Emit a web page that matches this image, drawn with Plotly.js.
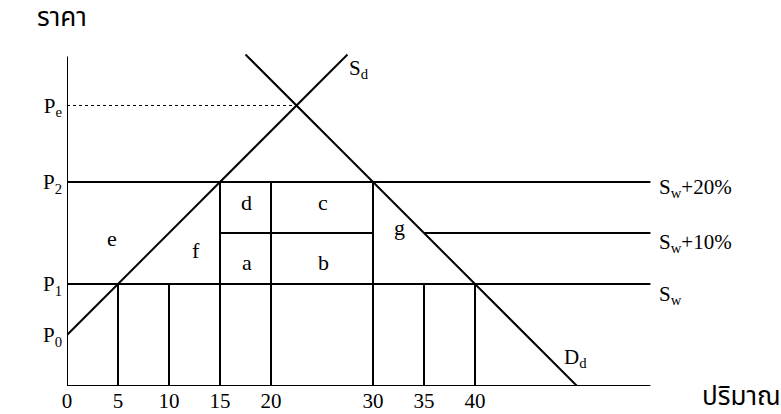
<!DOCTYPE html>
<html>
<head>
<meta charset="utf-8">
<script src="https://cdn.plot.ly/plotly-3.0.1.min.js"></script>
<style>body{margin:0;background:#fff;}</style>
</head>
<body>
<div id="chart" style="width:781px;height:414px"></div>
<script>
// Price levels
const priceNames = ['P<sub>0</sub>', 'P<sub>1</sub>', 'P<sub>2</sub>', 'P<sub>e</sub>'];
const priceValues = [5, 10, 20, 27.5];
const priceSw10 = 15;
// Quantity tick labels
const qtyTicks = [0, 5, 10, 15, 20, 30, 35, 40];
// Domestic supply S_d and demand D_d
const sdQ = [0, 27.5];
const sdP = [5, 32.5];
const ddQ = [17.5, 50];
const ddP = [32.5, 0];
// Axis extents
const axisQmax = 57.2;
const axisPmax = 32.3;
// Vertical guide lines: quantity and top price
const vertQ = [5, 10, 15, 20, 30, 35, 40];
const vertTop = [10, 10, 20, 20, 20, 10, 10];
// Equilibrium
const eqQ = 22.5, eqP = 27.5;
// Region labels
const regionText = ['d', 'c', 'a', 'b', 'g', 'e', 'f'];
const regionQ = [17.6, 25.1, 17.6, 25.1, 32.6, 4.4, 12.6];
const regionP = [18.0, 18.0, 12.1, 12.1, 15.5, 14.5, 13.3];

const P0 = priceValues[0], P1 = priceValues[1], P2 = priceValues[2];
const black = '#000';
const serif = 'Liberation Serif';
const thai = 'Noto Sans Thai';

function seg(x, y, extra) {
  return Object.assign({type: 'scatter', mode: 'lines', x: x, y: y, line: {color: black, width: 2}, hoverinfo: 'skip', showlegend: false, cliponaxis: false}, extra || {});
}
const traces = [];
// axes
traces.push(seg([0, axisQmax], [0, 0]));
traces.push(seg([0, 0], [0, axisPmax]));
// S_d and D_d
traces.push(seg(sdQ, sdP));
traces.push(seg(ddQ, ddP));
// P_e dotted
traces.push(seg([0, eqQ], [eqP, eqP], {line: {color: black, width: 1, dash: 'dot'}}));
// S_w + 20% (at P2)
traces.push(seg([0, axisQmax], [P2, P2]));
// S_w + 10%
traces.push(seg([15, 30], [priceSw10, priceSw10]));
traces.push(seg([50 - priceSw10, axisQmax], [priceSw10, priceSw10]));
// S_w (at P1)
traces.push(seg([0, axisQmax], [P1, P1]));
// verticals
vertQ.forEach((q, i) => traces.push(seg([q, q], [0, vertTop[i]])));

const ann = [];
regionText.forEach((t, i) => ann.push({x: regionQ[i], y: regionP[i], text: t, showarrow: false, font: {family: serif, size: 22, color: black}}));
const lab = (x, y, t) => ({x: x, y: y, text: t, showarrow: false, xanchor: 'left', font: {family: serif, size: 21, color: black}});
ann.push(lab(27.45, 31.1, 'S<sub>d</sub>'));
ann.push(lab(48.5, 2.7, 'D<sub>d</sub>'));
ann.push(lab(57.8, 19.4, 'S<sub>w</sub>+20%'));
ann.push(lab(57.8, 14.0, 'S<sub>w</sub>+10%'));
ann.push(lab(57.8, 8.9, 'S<sub>w</sub>'));
// axis titles (paper coordinates, outside the data range)
ann.push({xref: 'paper', yref: 'paper', x: -0.007, y: 0.953, xanchor: 'center', yanchor: 'middle', text: 'ราคา', showarrow: false, font: {family: thai, size: 26, color: black}});
ann.push({xref: 'paper', yref: 'paper', x: 0.944, y: -0.028, xanchor: 'center', yanchor: 'middle', text: 'ปริมาณ', showarrow: false, font: {family: thai, size: 26, color: black}});

const layout = {
  width: 781, height: 414,
  margin: {l: 67, r: 0, t: 0, b: 28, pad: 0},
  paper_bgcolor: '#fff', plot_bgcolor: '#fff',
  showlegend: false,
  xaxis: {range: [0, 70], showgrid: false, zeroline: false, showline: false, ticks: '', tickvals: qtyTicks, ticktext: qtyTicks.map(String), tickfont: {family: serif, size: 21, color: black}, fixedrange: true},
  yaxis: {range: [0, 37.84], showgrid: false, zeroline: false, showline: false, ticks: '', ticklabelstandoff: 4, tickvals: priceValues, ticktext: priceNames, tickfont: {family: serif, size: 21, color: black}, fixedrange: true},
  annotations: ann
};
Plotly.newPlot('chart', traces, layout, {displayModeBar: false});
</script>
</body>
</html>
